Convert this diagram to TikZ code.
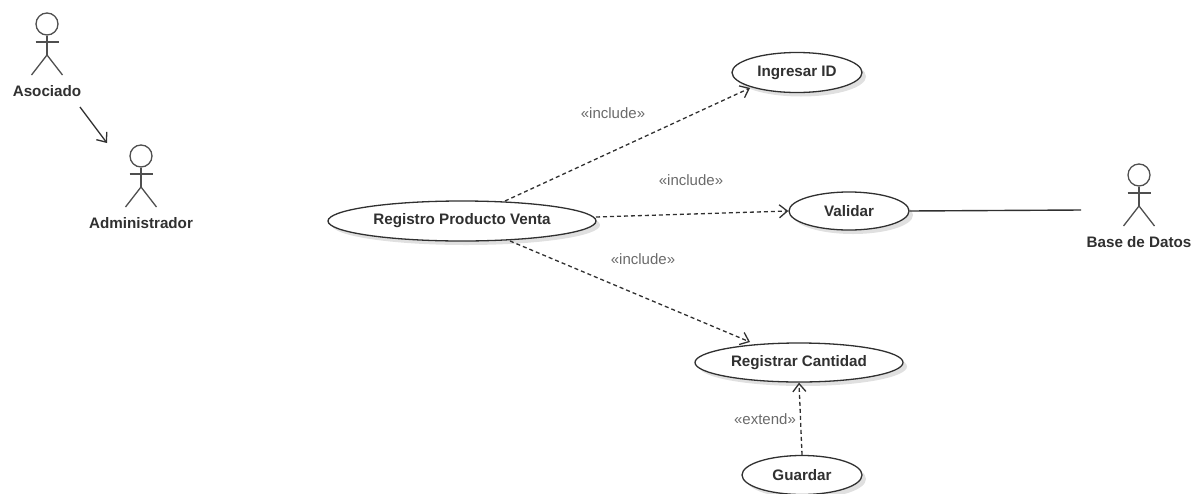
\documentclass[tikz,border=0pt]{standalone}
\usepackage{fontspec}
\setmainfont{Liberation Sans}
\usetikzlibrary{arrows.meta,shadows,shapes.geometric}
\definecolor{ink}{HTML}{303030}
\definecolor{lbl}{HTML}{6A6A6A}
\tikzset{
  usecase/.style={ellipse,draw=ink,line width=1.3pt,fill=white,inner sep=0pt,
    font=\fontsize{15.2}{18}\selectfont\bfseries,text=ink,
    drop shadow={shadow xshift=4pt,shadow yshift=-4pt,opacity=.12,fill=black}},
  actorlabel/.style={inner sep=0pt,font=\fontsize{15.2}{18}\selectfont\bfseries,text=ink},
  stereo/.style={inner sep=0pt,font=\fontsize{15}{18}\selectfont,text=lbl},
  limb/.style={draw=ink!85,line width=1.3pt},
  dep/.style={draw=ink,line width=1.3pt,dash pattern=on 4pt off 3pt,-{Straight Barb[length=8pt,width=13pt]}},
  solidarrow/.style={draw=ink,line width=1.3pt,-{Straight Barb[length=8pt,width=13pt]}},
  assoc/.style={draw=ink,line width=1.4pt}
}
\newcommand{\stickman}[5]{% name, head x, head y, label, label y
  \node[circle,limb,minimum size=22pt,inner sep=0pt] (#1head) at (#2,#3) {};
  \coordinate (#1hip) at (#2,#3+31);
  \draw[limb] (#1head.south) -- (#1hip);
  \draw[limb] (#2-11.5,#3+18) -- (#2+11.5,#3+18);
  \draw[limb] (#2-15.5,#3+51) -- (#1hip) -- (#2+15.5,#3+51);
  \node[actorlabel] (#1) at (#2,#5) {#4};
}
\begin{document}
\begin{tikzpicture}[x=1pt,y=-1pt]
\useasboundingbox (0,0) rectangle (1191,493);
\stickman{asociado}{47}{24}{Asociado}{91}
\stickman{admin}{141}{156}{Administrador}{223.5}
\stickman{base}{1139}{175}{Base de Datos}{242}

\node[usecase,minimum width=130pt,minimum height=40pt] (ingresar) at (797,72.5) {Ingresar ID};
\node[usecase,minimum width=120pt,minimum height=38pt] (validar) at (849,211) {Validar};
\node[usecase,minimum width=268pt,minimum height=40pt] (registro) at (462,221) {Registro Producto Venta};
\node[usecase,minimum width=208pt,minimum height=39pt] (cantidad) at (799,362.5) {Registrar Cantidad};
\node[usecase,minimum width=120pt,minimum height=39pt] (guardar) at (802,475) {Guardar};

\coordinate (a1) at (80,107);
\coordinate (a2) at (107,143);
\draw[solidarrow] (a1) -- (a2);

\coordinate (r1) at (505,201);
\coordinate (i1) at (750,88);
\draw[dep] (r1) -- (i1);
\coordinate (r2) at (596,217);
\draw[dep] (r2) -- (validar.west);
\coordinate (r3) at (510,241);
\coordinate (c1) at (750,342);
\draw[dep] (r3) -- (c1);
\draw[dep] (guardar.north) -- (cantidad.south);
\coordinate (b1) at (1081,210);
\draw[assoc] (validar.east) -- (b1);

\node[stereo] (l1) at (613,113) {«include»};
\node[stereo] (l2) at (691,180) {«include»};
\node[stereo] (l3) at (643,259) {«include»};
\node[stereo] (l4) at (765,419) {«extend»};
\end{tikzpicture}
\end{document}
